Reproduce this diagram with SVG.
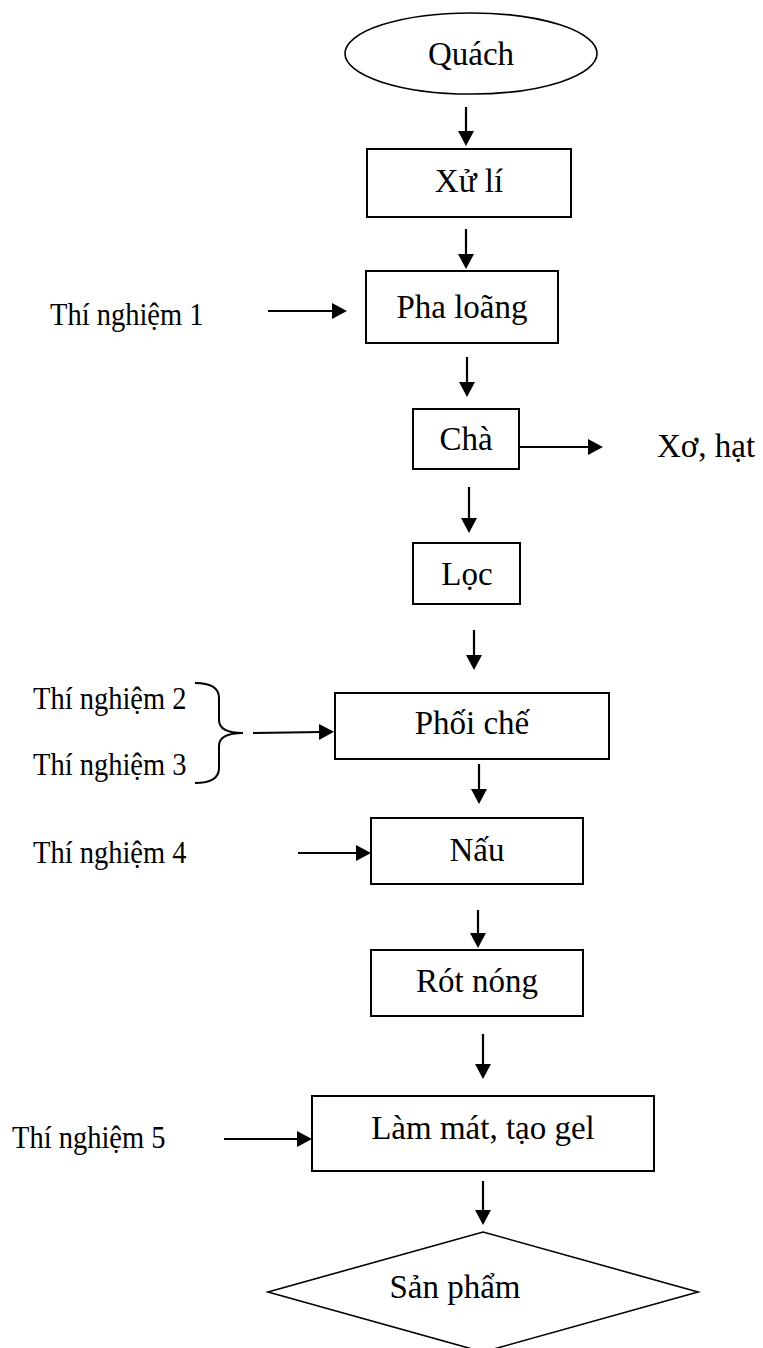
<svg xmlns="http://www.w3.org/2000/svg" width="763" height="1348" viewBox="0 0 763 1348">
  <defs>
    <style>
      .shape { fill: #fff; stroke: #000; stroke-width: 2; }
      .label { font-family: "Liberation Serif", "Times New Roman", serif; font-size: 33px; fill: #000; text-anchor: middle; }
      .side { font-family: "Liberation Serif", "Times New Roman", serif; font-size: 28.5px; fill: #000; }
      .flow { fill: none; stroke: #000; stroke-width: 2.2; marker-end: url(#head); }
      .brace { fill: none; stroke: #000; stroke-width: 2; }
    </style>
    <marker id="head" markerUnits="userSpaceOnUse" markerWidth="18" markerHeight="18" refX="2" refY="8" orient="auto">
      <path d="M0,0 L15,8 L0,16 z" fill="#000"/>
    </marker>
  </defs>
  <rect width="763" height="1348" fill="#fff"/>

  <!-- process steps -->
  <g id="quach">
    <ellipse class="shape" cx="471" cy="53.5" rx="126" ry="40.5" style="stroke-width:1.6"/>
    <text class="label" x="471" y="65">Quách</text>
  </g>
  <g id="xu-li">
    <rect class="shape" x="367" y="149" width="204" height="68"/>
    <text class="label" x="469" y="192">Xử lí</text>
  </g>
  <g id="pha-loang">
    <rect class="shape" x="366" y="271" width="192" height="72"/>
    <text class="label" x="462" y="318">Pha loãng</text>
  </g>
  <g id="cha">
    <rect class="shape" x="413" y="409" width="106" height="60"/>
    <text class="label" x="466" y="450">Chà</text>
  </g>
  <g id="xo-hat">
    <text class="label" x="657" y="457" style="text-anchor:start">Xơ, hạt</text>
  </g>
  <g id="loc">
    <rect class="shape" x="413" y="543" width="107" height="61"/>
    <text class="label" x="467" y="585">Lọc</text>
  </g>
  <g id="phoi-che">
    <rect class="shape" x="335" y="693" width="274" height="66"/>
    <text class="label" x="472" y="734">Phối chế</text>
  </g>
  <g id="nau">
    <rect class="shape" x="371" y="818" width="212" height="66"/>
    <text class="label" x="477" y="861">Nấu</text>
  </g>
  <g id="rot-nong">
    <rect class="shape" x="371" y="950" width="212" height="66"/>
    <text class="label" x="477" y="992">Rót nóng</text>
  </g>
  <g id="lam-mat">
    <rect class="shape" x="312" y="1096" width="342" height="75"/>
    <text class="label" x="483" y="1139">Làm mát, tạo gel</text>
  </g>
  <g id="san-pham">
    <polygon class="shape" points="483,1232 698,1292 483,1352 268,1292" style="stroke-width:1.6"/>
    <text class="label" x="455" y="1298">Sản phẩm</text>
  </g>

  <!-- experiment inputs (slightly tall lettering) -->
  <g id="tn1">
    <text class="side" transform="translate(50,325) scale(1,1.12)">Thí nghiệm 1</text>
  </g>
  <g id="tn2-3">
    <text class="side" transform="translate(33,709) scale(1,1.12)">Thí nghiệm 2</text>
    <text class="side" transform="translate(33,775) scale(1,1.12)">Thí nghiệm 3</text>
    <path class="brace" d="M195,683 Q219,683 219,698 L219,720 Q219,733 243,733 Q219,733 219,746 L219,768 Q219,783 195,783"/>
  </g>
  <g id="tn4">
    <text class="side" transform="translate(33,863) scale(1,1.12)">Thí nghiệm 4</text>
  </g>
  <g id="tn5">
    <text class="side" transform="translate(12,1148) scale(1,1.12)">Thí nghiệm 5</text>
  </g>

  <!-- connectors: each line stops 13px short of the tip, the marker supplies the head -->
  <g id="connectors">
    <line class="flow" x1="466" y1="107" x2="466" y2="133"/>
    <line class="flow" x1="466" y1="229" x2="466" y2="256"/>
    <line class="flow" x1="467" y1="357" x2="467" y2="384"/>
    <line class="flow" x1="469" y1="487" x2="469" y2="520"/>
    <line class="flow" x1="474" y1="630" x2="474" y2="657"/>
    <line class="flow" x1="479" y1="764" x2="479" y2="791"/>
    <line class="flow" x1="478" y1="910" x2="478" y2="935"/>
    <line class="flow" x1="483" y1="1034" x2="483" y2="1066"/>
    <line class="flow" x1="483" y1="1181" x2="483" y2="1212"/>
    <line class="flow" x1="519" y1="447" x2="590" y2="447"/>
    <line class="flow" x1="268" y1="311" x2="334" y2="311"/>
    <line class="flow" x1="253" y1="733" x2="321" y2="732"/>
    <line class="flow" x1="298" y1="853" x2="358" y2="853"/>
    <line class="flow" x1="224" y1="1139" x2="299" y2="1139"/>
  </g>
</svg>
